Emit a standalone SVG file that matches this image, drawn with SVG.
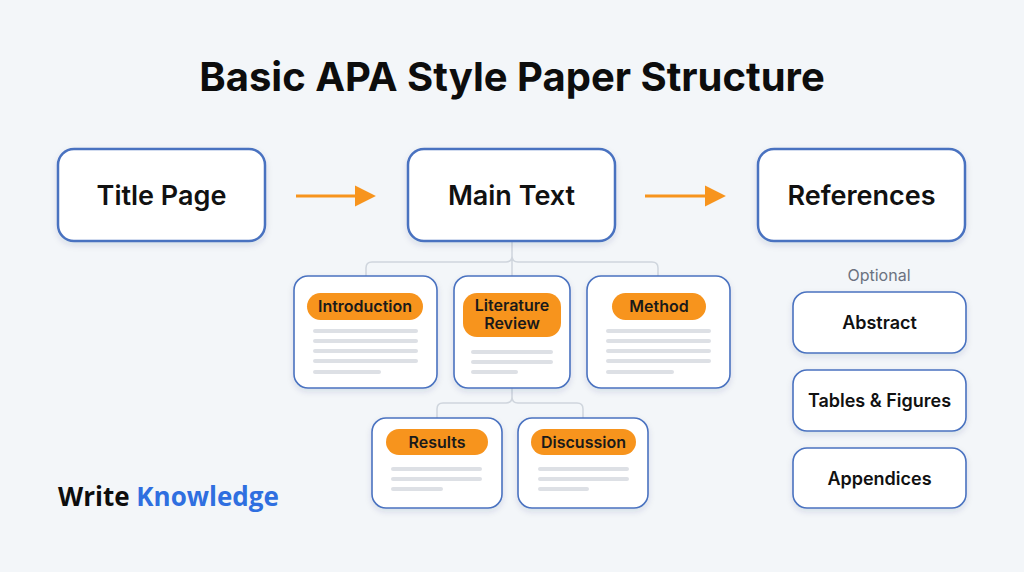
<svg xmlns="http://www.w3.org/2000/svg" width="1024" height="572" viewBox="0 0 1024 572">
<defs>
<filter id="sh" x="-20%" y="-20%" width="140%" height="150%">
<feDropShadow dx="0" dy="3" stdDeviation="3" flood-color="#1e3a6a" flood-opacity="0.12"/>
</filter>
<marker id="ah" viewBox="0 0 10 10" refX="1" refY="5" markerWidth="7" markerHeight="8" orient="auto" markerUnits="strokeWidth">
<path d="M0,0 L10,5 L0,10 z" fill="#f7941d"/>
</marker>
<style>
.box{fill:#fff;stroke:#4a72c0;stroke-width:2.5;filter:url(#sh)}
.card{fill:#fff;stroke:#4a72c0;stroke-width:1.6;filter:url(#sh)}
.opt{fill:#fff;stroke:#4a72c0;stroke-width:1.6;filter:url(#sh)}
.big{font-family:Inter,"Liberation Sans",sans-serif;font-size:27px;font-weight:600;fill:#111;text-anchor:middle}
.pill{fill:#f7941d}
.pt{font-family:Inter,"Liberation Sans",sans-serif;font-size:16px;font-weight:600;fill:#1a1a1a;text-anchor:middle}
.ot{font-family:Inter,"Liberation Sans",sans-serif;font-size:18px;font-weight:600;fill:#111;text-anchor:middle}
.ln{stroke:#dde0e5;stroke-width:4;stroke-linecap:round}
.con{fill:none;stroke:#cfd5dd;stroke-width:1.5}
.arr{stroke:#f7941d;stroke-width:3}
</style>
</defs>
<rect width="1024" height="572" fill="#f3f6f9"/>
<text x="512" y="91" font-family="Inter,'Liberation Sans',sans-serif" font-size="40" font-weight="700" fill="#0d0d0d" text-anchor="middle">Basic APA Style Paper Structure</text>

<g id="connectors">
<line class="arr" x1="296" y1="196" x2="357" y2="196" marker-end="url(#ah)"/>
<line class="arr" x1="645" y1="196" x2="707" y2="196" marker-end="url(#ah)"/>
<path class="con" d="M512,241 V276 M512,256 Q512,262 506,262 H372 Q366,262 366,268 V276 M512,256 Q512,262 518,262 H652 Q658,262 658,268 V276"/>
<path class="con" d="M512,388 V397 Q512,403 506,403 H443 Q437,403 437,409 V418 M512,397 Q512,403 518,403 H577 Q583,403 583,409 V418"/>
</g>

<g id="title-page"><rect class="box" x="58" y="149" width="207" height="92" rx="16"/><text class="big" x="161.5" y="205">Title Page</text></g>
<g id="main-text"><rect class="box" x="408" y="149" width="207" height="92" rx="16"/><text class="big" x="511.5" y="205">Main Text</text></g>
<g id="references"><rect class="box" x="758" y="149" width="207" height="92" rx="16"/><text class="big" x="861.5" y="205">References</text></g>

<g id="introduction">
<rect class="card" x="294" y="276" width="143" height="112" rx="14"/>
<rect class="pill" x="307" y="293" width="116" height="27" rx="13.5"/>
<text class="pt" x="365" y="312">Introduction</text>
<line class="ln" x1="315" y1="331" x2="416" y2="331"/>
<line class="ln" x1="315" y1="341" x2="416" y2="341"/>
<line class="ln" x1="315" y1="351" x2="416" y2="351"/>
<line class="ln" x1="315" y1="361" x2="416" y2="361"/>
<line class="ln" x1="315" y1="372" x2="379" y2="372"/>
</g>
<g id="literature-review">
<rect class="card" x="454" y="276" width="116" height="112" rx="14"/>
<rect class="pill" x="463" y="293" width="98" height="44" rx="14"/>
<text class="pt" x="512" y="311">Literature</text>
<text class="pt" x="512" y="329">Review</text>
<line class="ln" x1="473" y1="352" x2="551" y2="352"/>
<line class="ln" x1="473" y1="362" x2="551" y2="362"/>
<line class="ln" x1="473" y1="372" x2="516" y2="372"/>
</g>
<g id="method">
<rect class="card" x="587" y="276" width="143" height="112" rx="14"/>
<rect class="pill" x="612" y="293" width="94" height="27" rx="13.5"/>
<text class="pt" x="659" y="312">Method</text>
<line class="ln" x1="608" y1="331" x2="709" y2="331"/>
<line class="ln" x1="608" y1="341" x2="709" y2="341"/>
<line class="ln" x1="608" y1="351" x2="709" y2="351"/>
<line class="ln" x1="608" y1="361" x2="709" y2="361"/>
<line class="ln" x1="608" y1="372" x2="672" y2="372"/>
</g>
<g id="results">
<rect class="card" x="372" y="418" width="130" height="90" rx="14"/>
<rect class="pill" x="386" y="429" width="102" height="26" rx="13"/>
<text class="pt" x="437" y="447.5">Results</text>
<line class="ln" x1="393" y1="469" x2="480" y2="469"/>
<line class="ln" x1="393" y1="479" x2="480" y2="479"/>
<line class="ln" x1="393" y1="489" x2="441" y2="489"/>
</g>
<g id="discussion">
<rect class="card" x="518" y="418" width="130" height="90" rx="14"/>
<rect class="pill" x="531" y="429" width="105" height="26" rx="13"/>
<text class="pt" x="583.5" y="447.5">Discussion</text>
<line class="ln" x1="540" y1="469" x2="627" y2="469"/>
<line class="ln" x1="540" y1="479" x2="627" y2="479"/>
<line class="ln" x1="540" y1="489" x2="587" y2="489"/>
</g>

<text x="879" y="281" font-family="Inter,'Liberation Sans',sans-serif" font-size="16" fill="#6b7280" text-anchor="middle">Optional</text>
<g id="abstract"><rect class="opt" x="793" y="292" width="173" height="61" rx="14"/><text class="ot" x="879.5" y="329">Abstract</text></g>
<g id="tables-figures"><rect class="opt" x="793" y="370" width="173" height="61" rx="14"/><text class="ot" x="879.5" y="407">Tables &amp; Figures</text></g>
<g id="appendices"><rect class="opt" x="793" y="448" width="173" height="60" rx="14"/><text class="ot" x="879.5" y="485">Appendices</text></g>

<text x="58" y="506" font-family="'Open Sans','Liberation Sans',sans-serif" font-size="26" font-weight="700" fill="#0d0d0d">Write <tspan fill="#2f6fe0">Knowledge</tspan></text>
</svg>
